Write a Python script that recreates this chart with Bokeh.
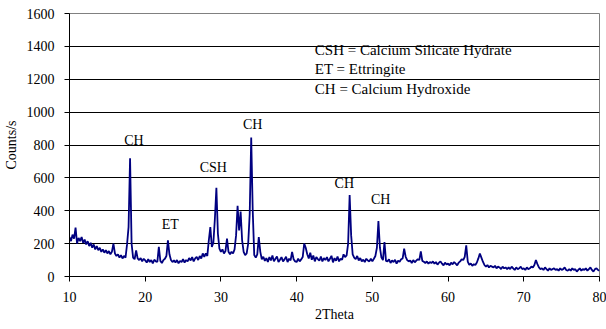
import numpy as np
from bokeh.plotting import figure
from bokeh.models import Range1d, FixedTicker, ColumnDataSource
from bokeh.core.properties import value
from bokeh.embed import file_html
from bokeh.resources import INLINE

# XRD scan: 2Theta from 10 to 80 in steps of 0.2 degrees
two_theta_start = 10.0
two_theta_step = 0.2
counts = [
    240, 215, 255, 230, 298, 200, 235, 215, 240, 205,   # 10.0-11.8
    225, 195, 215, 185, 205, 175, 195, 165, 185, 160,   # 12.0-13.8
    175, 150, 165, 145, 160, 140, 155, 135, 150, 200,   # 14.0-15.8
    140, 125, 135, 115, 130, 110, 125, 115, 195, 300,   # 16.0-17.8
    720, 200, 115, 105, 158, 110, 100, 112, 92, 108,    # 18.0-19.8
    98, 85, 105, 88, 100, 80, 102, 92, 88, 180,         # 20.0-21.8
    95, 82, 100, 108, 125, 220, 135, 100, 88, 98,       # 22.0-23.8
    85, 100, 80, 95, 88, 105, 85, 100, 92, 112,         # 24.0-25.8
    98, 118, 92, 110, 120, 100, 125, 110, 140, 120,     # 26.0-27.8
    140, 125, 220, 300, 180, 205, 350, 540, 260, 170,   # 28.0-29.8
    150, 165, 140, 155, 230, 150, 135, 150, 140, 165,   # 30.0-31.8
    250, 430, 280, 395, 220, 150, 130, 140, 200, 380,   # 32.0-33.8
    845, 400, 130, 115, 135, 240, 150, 105, 120, 95,    # 34.0-35.8
    112, 88, 118, 98, 128, 92, 108, 122, 88, 102,       # 36.0-37.8
    118, 92, 104, 120, 88, 108, 98, 150, 105, 92,       # 38.0-39.8
    88, 108, 92, 104, 118, 200, 175, 135, 110, 145,     # 40.0-41.8
    102, 128, 92, 118, 106, 96, 122, 92, 112, 100,      # 42.0-43.8
    118, 92, 108, 126, 86, 112, 96, 122, 92, 108,       # 44.0-45.8
    102, 135, 118, 128, 200, 495, 250, 135, 115, 105,   # 46.0-47.8
    125, 98, 112, 92, 102, 88, 108, 98, 92, 108,        # 48.0-49.8
    92, 108, 125, 175, 337, 175, 115, 100, 209, 95,     # 50.0-51.8
    92, 105, 82, 98, 88, 102, 78, 96, 90, 105,          # 52.0-53.8
    110, 169, 120, 100, 92, 98, 82, 100, 86, 96,        # 54.0-55.8
    105, 100, 152, 95, 90, 82, 92, 78, 88, 82,          # 56.0-57.8
    92, 78, 88, 72, 84, 92, 78, 68, 84, 74,             # 58.0-59.8
    78, 68, 84, 74, 88, 78, 68, 84, 92, 105,            # 60.0-61.8
    100, 120, 190, 90, 70, 80, 65, 75, 70, 85,          # 62.0-63.8
    110, 140, 115, 90, 70, 60, 70, 55, 65, 60,          # 64.0-65.8
    55, 65, 50, 60, 55, 45, 60, 50, 55, 45,             # 66.0-67.8
    55, 45, 60, 50, 40, 55, 45, 50, 60, 45,             # 68.0-69.8
    50, 40, 55, 45, 50, 60, 55, 70, 100, 75,            # 70.0-71.8
    55, 45, 50, 40, 55, 45, 35, 50, 40, 45,             # 72.0-73.8
    50, 40, 45, 35, 50, 40, 45, 55, 40, 35,             # 74.0-75.8
    45, 35, 50, 40, 45, 30, 40, 50, 35, 45,             # 76.0-77.8
    40, 50, 35, 45, 55, 40, 30, 45, 50, 40,             # 78.0-79.8
    35,                                                 # 80.0
]
two_theta = np.round(two_theta_start + two_theta_step * np.arange(len(counts)), 2)

x_ticks = [10, 20, 30, 40, 50, 60, 70, 80]
y_ticks = [0, 200, 400, 600, 800, 1000, 1200, 1400, 1600]

peak_labels = ["CH", "ET", "CSH", "CH", "CH", "CH"]
peak_label_x = [18.5, 23.3, 29.0, 34.2, 46.3, 51.1]
peak_label_y = [829, 317, 666, 927, 565, 468]

key_lines = ["CSH = Calcium Silicate Hydrate", "ET = Ettringite", "CH = Calcium Hydroxide"]
key_x = [42.4, 42.4, 42.4]
key_y = [1378, 1260, 1138]

FONT = "Liberation Serif"

p = figure(width=606, height=329, output_backend="svg", toolbar_location=None,
           x_range=Range1d(10, 80), y_range=Range1d(0, 1600),
           min_border_left=69, min_border_right=7, min_border_top=13, min_border_bottom=53)
p.background_fill_color = "white"
p.border_fill_color = "white"
p.outline_line_color = "#808080"
p.outline_line_width = 1

p.xaxis.ticker = FixedTicker(ticks=x_ticks)
p.yaxis.ticker = FixedTicker(ticks=y_ticks)
p.xgrid.grid_line_color = None
p.ygrid.ticker = FixedTicker(ticks=y_ticks)
p.ygrid.grid_line_color = "black"
p.ygrid.grid_line_width = 1

for ax in (p.xaxis[0], p.yaxis[0]):
    ax.axis_line_color = "black"
    ax.major_tick_line_color = "black"
    ax.minor_tick_line_color = None
    ax.major_tick_in = 0
    ax.major_tick_out = 5
    ax.major_label_text_font = FONT
    ax.major_label_text_font_size = "14px"
    ax.major_label_text_color = "black"
    ax.axis_label_text_font = FONT
    ax.axis_label_text_font_size = "14px"
    ax.axis_label_text_font_style = "normal"
    ax.axis_label_text_color = "black"

p.xaxis.axis_label = "2Theta"
p.yaxis.axis_label = "Counts/s"
p.xaxis.major_label_standoff = 10
p.xaxis.axis_label_standoff = 2
p.yaxis.major_label_standoff = 10
p.yaxis.axis_label_standoff = 5

p.line(two_theta, counts, line_color="#000080", line_width=1.8)

src_peaks = ColumnDataSource(dict(x=peak_label_x, y=peak_label_y, t=peak_labels))
p.text(x="x", y="y", text="t", source=src_peaks, text_font=value(FONT),
       text_font_size=value("14px"), text_align="center", text_baseline="middle",
       text_color="black")

src_key = ColumnDataSource(dict(x=key_x, y=key_y, t=key_lines))
p.text(x="x", y="y", text="t", source=src_key, text_font=value(FONT),
       text_font_size=value("15px"), text_align="left", text_baseline="middle",
       text_color="black")

open("out.html", "w").write(file_html(p, INLINE))
